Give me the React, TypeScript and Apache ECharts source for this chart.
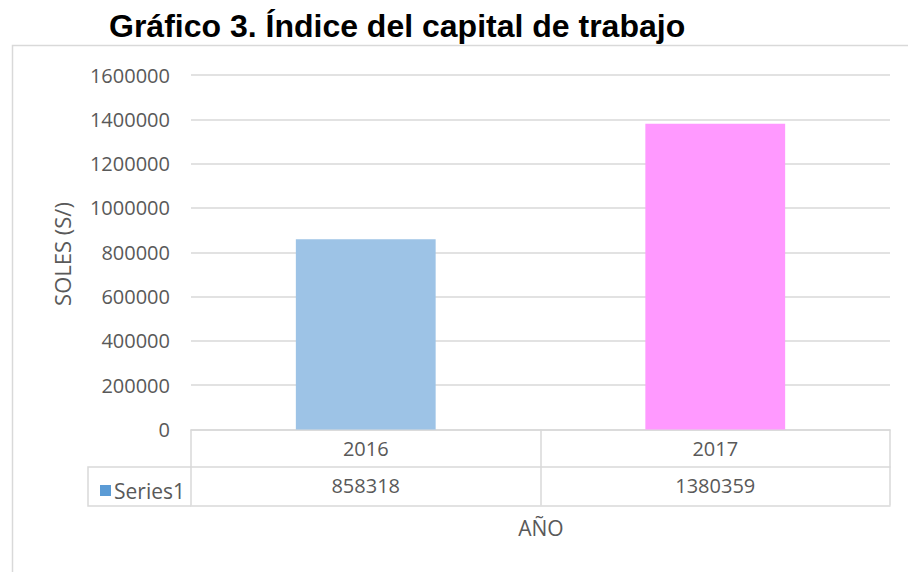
import React, { useEffect, useRef } from "react";
import * as echarts from "echarts";

const categories = ["2016", "2017"];
const values = [858318, 1380359];
const barColors = ["#9DC3E6", "#FF99FF"];
const seriesName = "Series1";
const titleText = "Gráfico 3. Índice del capital de trabajo";
const yTitle = "SOLES (S/)";
const xTitle = "AÑO";
const yMax = 1600000;
const yStep = 200000;

const FONT = "'Open Sans', 'DejaVu Sans', sans-serif";
const TXT = "#595959";
const LINE = "#d9d9d9";

export default function App() {
  const ref = useRef<HTMLDivElement>(null);
  useEffect(() => {
    if (!ref.current) return;
    const chart = echarts.init(ref.current, null, { renderer: "svg" });
    chart.setOption({
      animation: false,
      backgroundColor: "#ffffff",
      title: {
        text: titleText,
        left: 104,
        top: 5,
        textStyle: {
          fontFamily: "'Liberation Sans', Arial, sans-serif",
          fontWeight: "bold",
          fontSize: 32,
          color: "#000000",
        },
      },
      legend: {
        data: [{ name: seriesName, icon: "rect", itemStyle: { color: "#5B9BD5" } }],
        left: 95,
        top: 475,
        itemWidth: 11,
        itemHeight: 11,
        itemGap: 4,
        textStyle: { fontFamily: FONT, fontSize: 21, color: TXT, padding: [0, 0, 0, -2] },
        selectedMode: false,
      },
      grid: { left: 191, right: 18, top: 75, bottom: 142.5, containLabel: false },
      xAxis: [
        {
          type: "category",
          data: categories,
          position: "bottom",
          axisLine: { show: true, lineStyle: { color: LINE, width: 1.5 } },
          axisTick: { show: true, inside: false, length: 76, lineStyle: { color: LINE, width: 1.5 } },
          axisLabel: { fontFamily: FONT, fontSize: 20, color: TXT, margin: 9 },
        },
        {
          type: "category",
          data: categories,
          position: "bottom",
          offset: 37,
          axisLine: { show: true, lineStyle: { color: LINE, width: 1.5 } },
          axisTick: { show: false },
          axisLabel: {
            fontFamily: FONT,
            fontSize: 20,
            color: TXT,
            margin: 9,
            formatter: (_v: string, i: number) => String(values[i]),
          },
        },
        {
          type: "category",
          data: categories,
          position: "bottom",
          offset: 76,
          axisLine: { show: true, lineStyle: { color: LINE, width: 1.5 } },
          axisTick: { show: false },
          axisLabel: { show: false },
        },
      ],
      yAxis: {
        type: "value",
        min: 0,
        max: yMax,
        interval: yStep,
        axisLine: { show: false },
        axisTick: { show: false },
        splitLine: { lineStyle: { color: LINE, width: 1.5 } },
        axisLabel: {
          fontFamily: FONT,
          fontSize: 20,
          color: TXT,
          margin: 21,
          formatter: (v: number) => String(v),
        },
      },
      series: [
        {
          name: seriesName,
          type: "bar",
          barWidth: "40%",
          itemStyle: { color: "#5B9BD5" },
          data: values.map((v, i) => ({ value: v, itemStyle: { color: barColors[i] } })),
        },
      ],
      graphic: [
        {
          type: "rect",
          shape: { x: 12.5, y: 45.5, width: 1000, height: 1000 },
          style: { fill: "none", stroke: LINE, lineWidth: 1.5 },
          z: -1,
        },
        {
          type: "polyline",
          shape: { points: [[191, 467], [88, 467], [88, 506], [191, 506]] },
          style: { fill: "none", stroke: LINE, lineWidth: 1.5 },
        },
        {
          type: "text",
          x: 62,
          y: 254,
          rotation: Math.PI / 2,
          style: {
            text: yTitle,
            fontFamily: FONT,
            fontSize: 22,
            fill: TXT,
            align: "center",
            verticalAlign: "middle",
          },
        },
        {
          type: "text",
          x: 541,
          y: 528,
          style: {
            text: xTitle,
            fontFamily: FONT,
            fontSize: 21,
            fill: TXT,
            align: "center",
            verticalAlign: "middle",
          },
        },
      ],
    });
    return () => chart.dispose();
  }, []);
  return (
    <div
      ref={ref}
      style={{ position: "fixed", left: 0, top: 0, width: 908, height: 572 }}
    />
  );
}
